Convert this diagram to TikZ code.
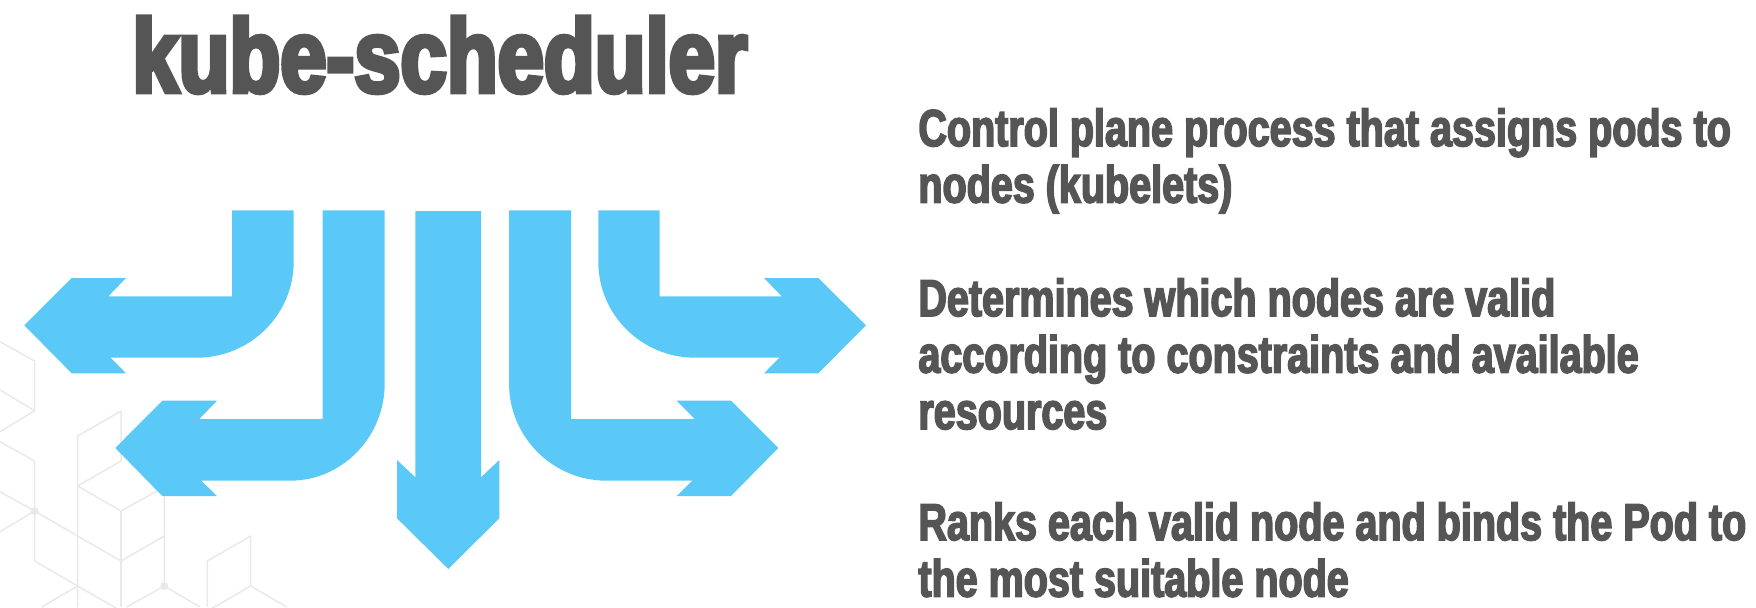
\documentclass[tikz,border=0pt]{standalone}
\usepackage{fontspec}
\newfontface\titlefont{Liberation Sans Bold}[FakeStretch=0.80,FakeBold=4.5]
\newfontface\bodyfont{Liberation Sans Bold}[FakeStretch=0.76,FakeBold=3]
\definecolor{arrowblue}{HTML}{5AC9F8}
\definecolor{inkgrey}{HTML}{555555}
\definecolor{hexgrey}{HTML}{E9E9E9}
\tikzset{
  bluearrow/.style={fill=arrowblue,draw=none},
  hexline/.style={draw=hexgrey,line width=0.75pt,line join=round},
  hexdot/.style={fill=hexgrey,draw=none},
  titletext/.style={anchor=base west,inner sep=0pt,text=inkgrey,font=\titlefont\fontsize{52}{60}\selectfont},
  bodytext/.style={anchor=north west,inner sep=0pt,text=inkgrey,align=left,font=\bodyfont\fontsize{26}{28.25}\selectfont}
}
\begin{document}
\begin{tikzpicture}[x=0.5pt,y=-0.5pt]
\useasboundingbox (0,0) rectangle (1756,607);
% background hexagon lines
\begin{scope}
\clip (0,0) rectangle (1756,607);
\draw[hexline] (0,341.7) -- (34.7,361) -- (34.7,410.7) -- (0,431.7);
\draw[hexline] (0,390) -- (34.7,410.7);
\draw[hexline] (0,441.7) -- (34.7,461) -- (34.7,511) -- (0,531.7);
\draw[hexline] (0,491.7) -- (34.7,511) -- (77.7,536) -- (121,561) -- (164.3,536);
\draw[hexline] (34.7,511) -- (34.7,561) -- (77.7,586) -- (121,611);
\draw[hexline] (77.7,586) -- (41.7,607);
\draw[hexline] (77.7,607) -- (77.7,436) -- (121,411) -- (121,461) -- (77.7,486);
\draw[hexline] (77.7,486) -- (121,511) -- (157,491);
\draw[hexline] (121,511) -- (121,607);
\draw[hexline] (164.3,496) -- (164.3,586) -- (126.7,607);
\draw[hexline] (164.3,586) -- (200,607);
\draw[hexline] (207.3,607) -- (207.3,561) -- (250.7,536) -- (250.7,586) -- (207.3,611);
\draw[hexline] (250.7,586) -- (286.7,607);
\fill[hexdot] (34.7,511) circle (2pt);
\fill[hexdot] (164.3,586) circle (2pt);
\end{scope}
% arrows
\fill[bluearrow] (232,210.3) -- (293.7,210.3) -- (293.7,261.7)
  arc[start angle=0,end angle=90,x radius=97,y radius=96] -- (110.7,357.7)
  -- (126,373.3) -- (71.7,373.3) -- (24.3,325.3) -- (71.7,278) -- (126,278)
  -- (108.3,296.3) -- (232,296.3) -- cycle;
\fill[bluearrow] (322.7,210.3) -- (384.7,210.3) -- (384.7,383.3)
  arc[start angle=0,end angle=90,x radius=94.7,y radius=97.4] -- (201.3,480.7)
  -- (217,496) -- (162.3,496) -- (115.3,448) -- (162.3,400.7) -- (217,400.7)
  -- (199.3,419) -- (322.7,419) -- cycle;
\fill[bluearrow] (415.3,211) -- (481,211) -- (481,477.3) -- (499.3,460)
  -- (499.3,518.3) -- (448.3,569) -- (397,518.3) -- (397,460) -- (415.3,477.3) -- cycle;
\fill[bluearrow] (571,210.3) -- (509,210.3) -- (509,383.3)
  arc[start angle=180,end angle=90,x radius=97.7,y radius=97.4] -- (692.3,480.7)
  -- (676.7,496) -- (731,496) -- (778.3,448) -- (731,400.7) -- (676.7,400.7)
  -- (694.7,419) -- (571,419) -- cycle;
\fill[bluearrow] (659.7,210.3) -- (598.3,210.3) -- (598.3,261.7)
  arc[start angle=180,end angle=90,x radius=96.7,y radius=96] -- (779.3,357.7)
  -- (764,373.3) -- (818.3,373.3) -- (866,325.3) -- (818.3,278) -- (764,278)
  -- (781.7,296.3) -- (659.7,296.3) -- cycle;
% text
\node[titletext] (title) at (132,92) {kube-scheduler};
\node[bodytext] (p1) at (918,108) {Control plane process that assigns pods to\\nodes (kubelets)};
\node[bodytext] (p2) at (918,278) {Determines which nodes are valid\\according to constraints and available\\resources};
\node[bodytext] (p3) at (918,502) {Ranks each valid node and binds the Pod to\\the most suitable node};
\end{tikzpicture}
\end{document}
